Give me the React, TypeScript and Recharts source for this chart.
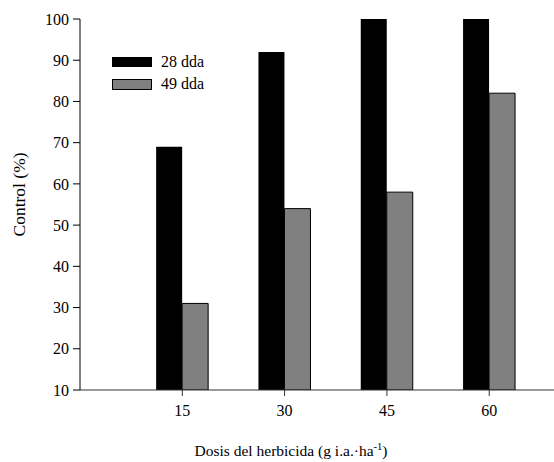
import React from "react";
import { BarChart, Bar, XAxis, YAxis } from "recharts";

const doses = [15, 30, 45, 60];
const dda28 = [69, 92, 100, 100];
const dda49 = [31, 54, 58, 82];
const yTicks = [10, 20, 30, 40, 50, 60, 70, 80, 90, 100];
const seriesNames = ["28 dda", "49 dda"];
const seriesColors = ["#000", "#808080"];

const data = doses.map((d, i) => ({ x: d, d28: dda28[i], d49: dda49[i] }));

const FONT = "'Liberation Serif', 'Times New Roman', Times, serif";

const XLabel = (props: any) => {
  const vb = props.viewBox || {};
  const cx = vb.x + vb.width / 2 - 26;
  const y = vb.y + vb.height - 6;
  return (
    <text x={cx} y={y} textAnchor="middle" fontFamily={FONT} fontSize={15.5} fill="#000">
      Dosis del herbicida (g i.a.·ha
      <tspan dy={-6} fontSize={10.5}>-1</tspan>
      <tspan dy={6}>)</tspan>
    </text>
  );
};

const YLabel = (props: any) => {
  const vb = props.viewBox || {};
  const cx = 19;
  const cy = vb.y + vb.height / 2 - 10;
  return (
    <text
      x={cx}
      y={cy}
      transform={`rotate(-90, ${cx}, ${cy})`}
      textAnchor="middle"
      dominantBaseline="central"
      fontFamily={FONT}
      fontSize={17.5}
      fill="#000"
    >
      Control (%)
    </text>
  );
};

const LegendBox = () => (
  <div
    style={{
      position: "absolute",
      left: 112,
      top: 51,
      fontFamily: FONT,
      fontSize: 16,
      color: "#000",
      lineHeight: "22px",
    }}
  >
    {seriesNames.map((n, i) => (
      <div key={n} style={{ display: "flex", alignItems: "center", height: 22 }}>
        <div
          style={{
            width: 40,
            height: i === 0 ? 10 : 11,
            boxSizing: "border-box",
            background: seriesColors[i],
            border: i === 0 ? "none" : "1px solid #000",
            marginRight: 9,
          }}
        />
        <span>{n}</span>
      </div>
    ))}
  </div>
);

export default function App() {
  return (
    <div
      style={{
        position: "absolute",
        left: 0,
        top: 0,
        width: 554,
        height: 462,
        overflow: "hidden",
        background: "#fff",
      }}
    >
      <BarChart
        width={554}
        height={462}
        data={data}
        margin={{ top: 19, right: 0, bottom: 0, left: 0 }}
        barGap={0}
      >
        <XAxis
          type="number"
          dataKey="x"
          domain={[0, 69.5]}
          ticks={doses}
          allowDataOverflow
          height={72}
          tickSize={6}
          tickMargin={9}
          axisLine={{ stroke: "#333" }}
          tickLine={{ stroke: "#333" }}
          tick={{ fill: "#000", fontFamily: FONT, fontSize: 16 }}
          label={<XLabel />}
        />
        <YAxis
          type="number"
          domain={[10, 100]}
          ticks={yTicks}
          allowDataOverflow
          width={80}
          tickSize={7}
          tickMargin={4}
          axisLine={{ stroke: "#000" }}
          tickLine={{ stroke: "#000" }}
          tick={{ fill: "#000", fontFamily: FONT, fontSize: 16 }}
          label={<YLabel />}
        />
        <Bar dataKey="d28" name={seriesNames[0]} fill={seriesColors[0]} barSize={26} isAnimationActive={false} />
        <Bar
          dataKey="d49"
          name={seriesNames[1]}
          fill={seriesColors[1]}
          stroke="#000"
          strokeWidth={1}
          barSize={26}
          isAnimationActive={false}
        />
      </BarChart>
      <LegendBox />
    </div>
  );
}
